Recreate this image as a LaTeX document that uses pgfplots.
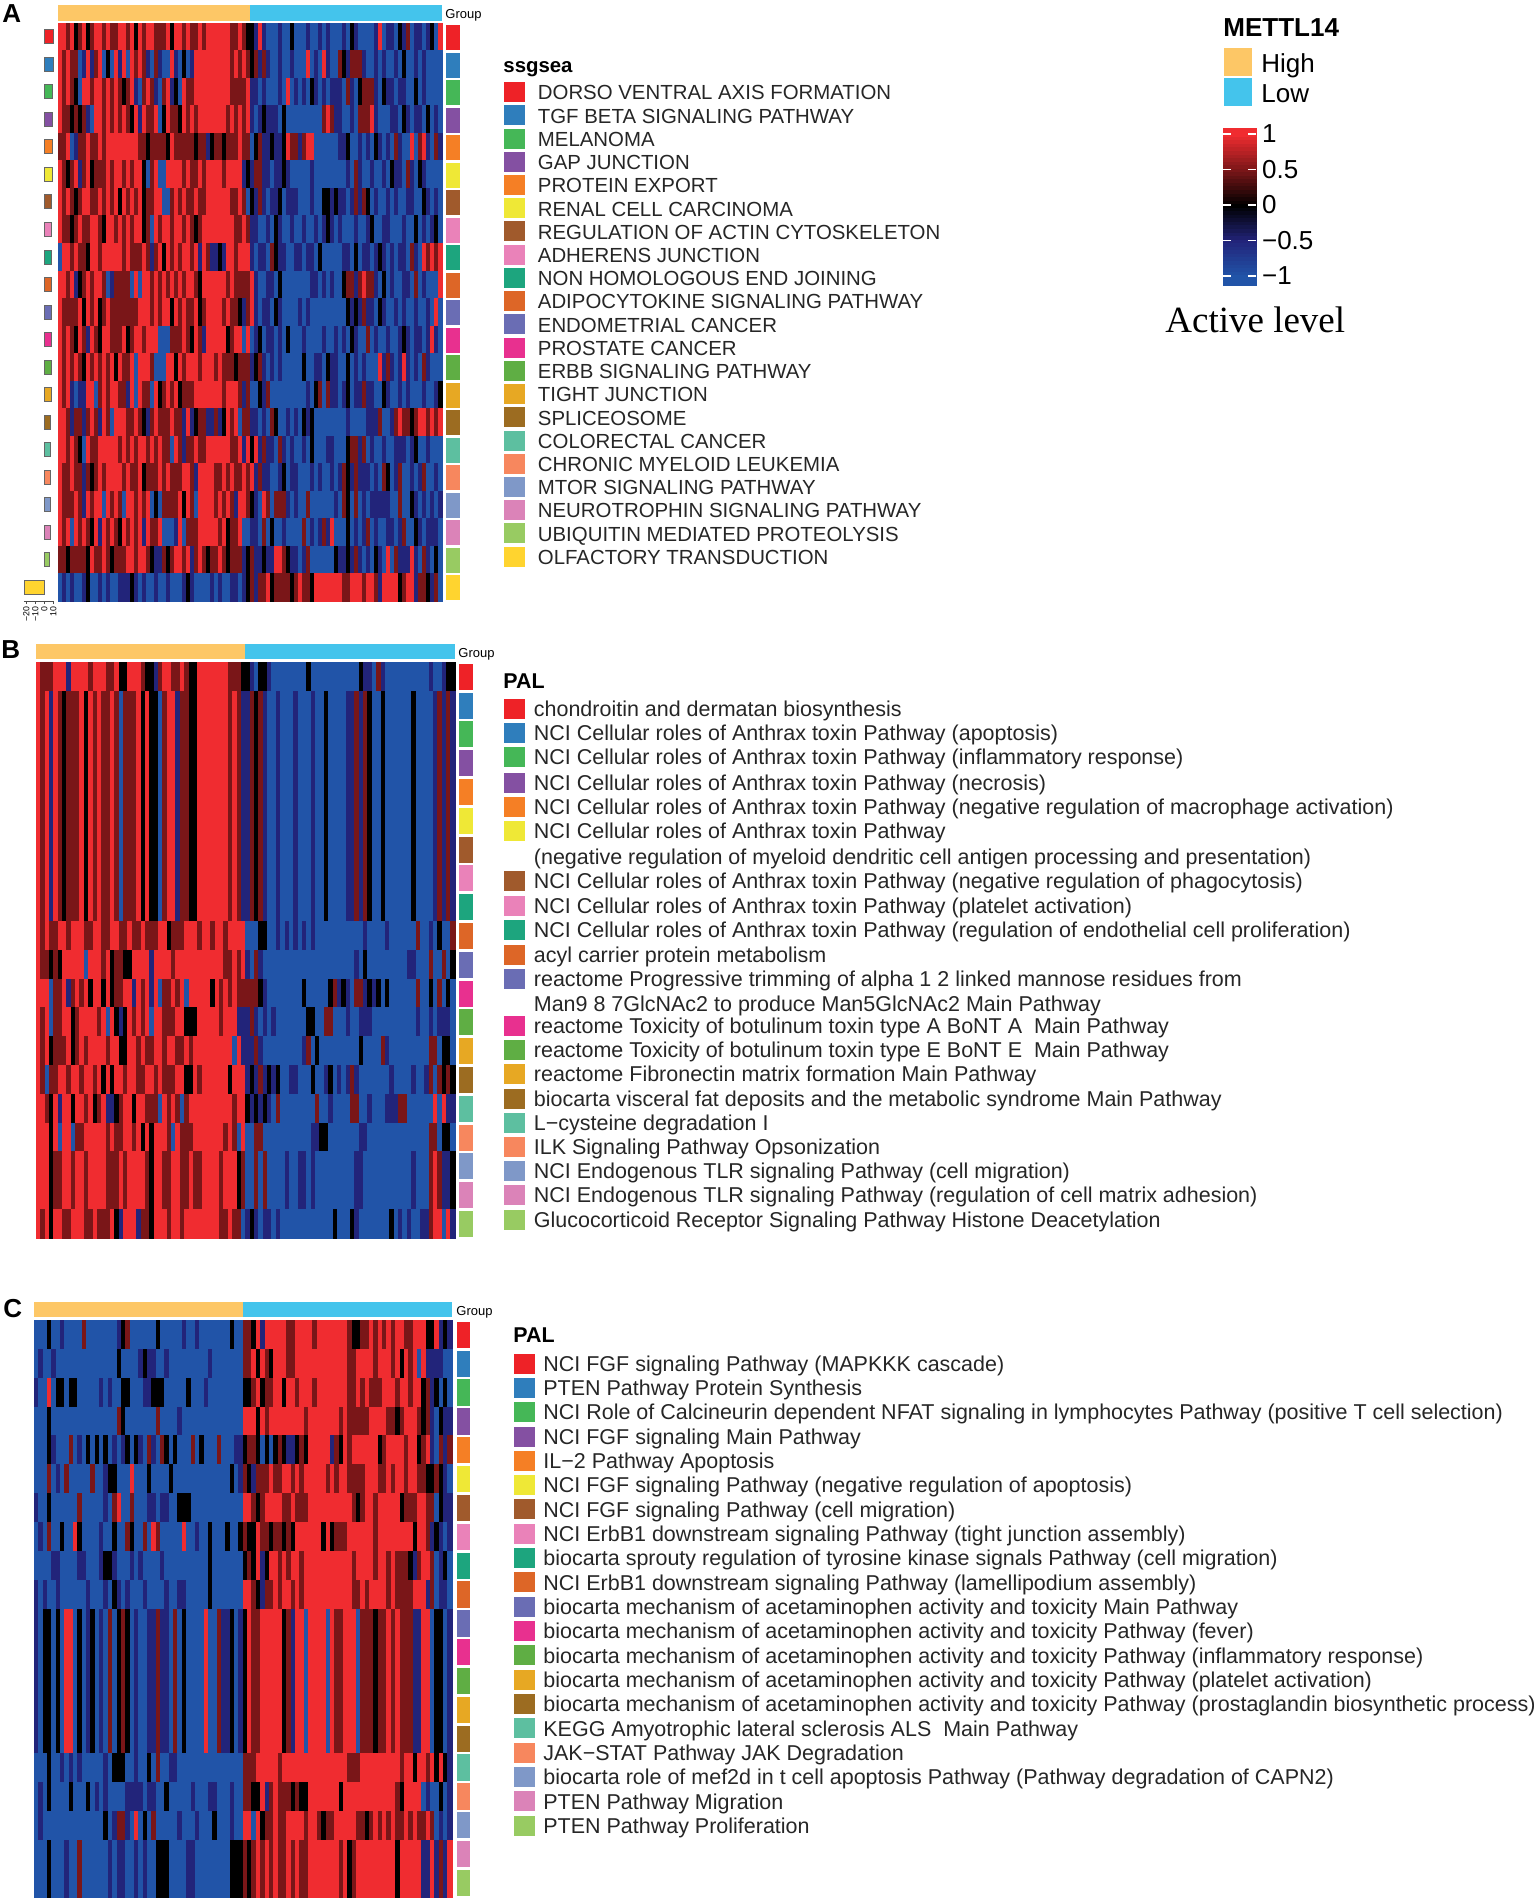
\documentclass[border=0pt]{standalone}
\usepackage{fontspec}
\setmainfont{Liberation Sans}
\newfontfamily\serifact{Liberation Serif}
\usepackage{pgfplots}
\pgfplotsset{compat=1.18}

% annotation colours
\definecolor{hi}{HTML}{FDC766}
\definecolor{lo}{HTML}{44C4EC}
\definecolor{pal1}{HTML}{EE2227}
\definecolor{pal2}{HTML}{2F7EBC}
\definecolor{pal3}{HTML}{45B757}
\definecolor{pal4}{HTML}{8450A2}
\definecolor{pal5}{HTML}{F57F25}
\definecolor{pal6}{HTML}{EFE836}
\definecolor{pal7}{HTML}{A05A2C}
\definecolor{pal8}{HTML}{EA82B9}
\definecolor{pal9}{HTML}{1DA57E}
\definecolor{pal10}{HTML}{DD6627}
\definecolor{pal11}{HTML}{6A6DB4}
\definecolor{pal12}{HTML}{E8308F}
\definecolor{pal13}{HTML}{5FAE44}
\definecolor{pal14}{HTML}{E7A823}
\definecolor{pal15}{HTML}{9C6C21}
\definecolor{pal16}{HTML}{5DBFA0}
\definecolor{pal17}{HTML}{F7875E}
\definecolor{pal18}{HTML}{7F98C8}
\definecolor{pal19}{HTML}{DB83B8}
\definecolor{pal20}{HTML}{98CB62}
\definecolor{pal21}{HTML}{FFD42F}

\pgfplotsset{
  colormap={hm}{rgb255=(33,84,168) rgb255=(34,36,122) rgb255=(0,0,0) rgb255=(122,22,24) rgb255=(240,44,48)},
  hmcell/.style={only marks,scatter,point meta=explicit,mark=square*,mark size=1pt,
    scatter/use mapped color={draw=mapped color,fill=mapped color}},
  hmaxis/.style={scale only axis,hide axis,y dir=reverse,anchor=north west,
    colormap name=hm,point meta min=0,point meta max=4,xmin=-0.5,xmax=95.5,ymin=-0.5},
}

% heatmap level per cell: 0 = -1, 1 = -0.5, 2 = 0, 3 = 0.5, 4 = 1
\newcount\hmi
\newcommand\hmrow[2]{%
  \gdef\pts{}\global\hmi=0
  \foreach \v in #2 {\xdef\pts{\pts (\the\hmi,#1) [\v]}\global\advance\hmi by 1 }%
  \edef\temp{\noexpand\addplot[hmcell] coordinates {\pts};}\temp
}
% filled box in reference pixels
\newcommand\pxbox[5]{\addplot[fill=#1,draw=none] coordinates {(#2,#3)(#4,#3)(#4,#5)(#2,#5)};}
\newcommand\sidecell[6]{%
  \pgfmathsetmacro\ya{#4+(#1-1)*#5}\pgfmathsetmacro\yb{\ya+#6}%
  \edef\temp{\noexpand\pxbox{pal#1}{#2}{\ya}{#3}{\yb}}\temp}
\newcommand\legcore[6]{% size, colour, x swatch, x text, y, label
  \pgfmathsetmacro\ya{#5-10}\pgfmathsetmacro\yb{#5+10}\pgfmathsetmacro\xb{#3+21}%
  \edef\temp{\noexpand\pxbox{pal#2}{#3}{\ya}{\xb}{\yb}}\temp
  \node[anchor=mid west,inner sep=0pt,yshift=-1.25pt,font=\fontsize{#1}{12pt}\selectfont,text=black!85] at (axis cs:#4,#5) {#6};}
\newcommand\legitem{\legcore{10.2pt}}
\newcommand\legitemb{\legcore{10.74pt}}
\newcommand\lab[4]{\node[anchor=mid west,inner sep=0pt,font=#4] at (axis cs:#1,#2) {#3};}

% panel A
\def\Aa{4,4,3,4,2,3,4,2,3,4,4,3, 4,3,3,4,4,3,4,2,4,3,4,4, 3,3,3,4,2,4,4,3,4,3,3,4, 3,4,4,4,4,4,4,3,3,4,3,2, 2,1,4,1,0,0,0,1,0,0,2,0, 0,0,1,0,0,1,0,1,0,0,0,1, 0,2,1,0,0,0,0,1,4,0,1,1, 0,2,1,3,0,1,1,0,1,2,0,4}
\def\Ab{4,3,4,3,3,0,1,4,1,3,4,0, 2,0,4,1,4,0,4,3,4,3,1,0, 3,1,0,0,4,1,0,2,0,1,4,4, 4,4,4,4,4,4,4,3,4,3,4,3, 2,3,1,3,1,0,0,1,0,0,1,0, 0,0,4,0,1,0,4,1,0,0,3,2, 1,3,3,3,1,0,0,1,0,1,0,0, 1,0,2,0,0,1,0,1,0,0,0,0}
\def\Ac{4,3,4,3,2,0,4,4,3,4,4,3, 4,3,4,3,2,3,4,1,0,3,4,3, 1,0,3,4,1,2,0,4,3,3,4,4, 4,4,4,4,4,4,4,3,3,3,3,4, 1,1,0,1,0,0,0,1,0,4,0,1, 0,1,0,2,1,0,1,0,1,1,1,0, 3,1,0,2,3,3,3,1,0,2,1,1, 0,1,1,0,0,2,0,1,0,0,0,0}
\def\Ad{4,3,3,2,3,2,3,1,0,4,4,3, 4,3,4,3,4,3,2,4,1,4,3,3, 4,0,2,4,3,3,2,4,3,4,3,4, 4,4,4,4,4,4,3,4,3,4,3,4, 1,0,1,2,1,1,1,0,2,0,0,0, 0,0,0,0,0,0,3,4,3,1,1,0, 0,1,0,3,3,3,4,1,0,0,0,1, 1,0,2,1,0,1,1,0,2,0,1,0}
\def\Ae{3,3,4,0,1,3,3,4,3,3,4,3, 4,4,4,4,4,4,4,4,3,3,2,3, 3,3,3,2,4,3,3,3,3,3,2,3, 3,1,2,3,3,2,3,3,3,4,3,3, 0,2,3,1,1,2,1,1,2,4,3,3, 1,3,4,4,0,0,0,0,0,0,1,1, 2,0,0,1,0,1,0,2,1,0,1,0, 3,1,0,0,4,0,3,4,1,0,3,1}
\def\Af{4,3,2,3,4,1,3,4,2,3,3,3, 4,3,4,4,3,4,3,4,4,2,0,3, 4,0,0,4,4,4,4,3,4,3,3,4, 3,4,4,4,4,3,4,4,4,4,1,2, 1,3,3,1,1,0,1,1,2,1,0,0, 0,0,0,1,0,0,0,0,0,0,0,0, 1,0,3,1,0,0,1,0,0,1,0,2, 1,1,0,3,1,0,2,1,0,0,0,0}
\def\Ag{4,3,4,3,2,3,4,4,3,3,4,3, 4,3,4,2,4,3,4,3,4,2,3,3, 4,4,0,0,3,4,3,4,3,3,4,3, 3,4,4,4,4,4,4,3,3,4,3,0, 2,1,3,1,0,1,1,2,0,1,1,1, 0,0,0,1,0,0,2,2,1,2,1,1, 0,1,3,1,3,2,0,1,0,0,1,0, 1,0,0,1,1,0,0,2,1,0,1,0}
\def\Ah{4,3,3,2,3,4,3,3,4,4,3,2, 4,4,3,4,3,4,3,4,4,2,3,0, 4,3,4,4,3,4,4,3,4,3,2,3, 4,4,4,4,4,4,4,4,3,3,4,3, 1,1,0,0,1,0,2,1,0,0,1,0, 0,1,0,0,1,0,1,2,1,0,1,0, 0,0,1,0,0,1,2,0,0,1,1,0, 0,0,1,0,0,2,0,1,0,1,2,0}
\def\Ai{0,4,4,3,4,3,3,2,4,4,3,4, 4,4,4,4,3,4,3,3,3,4,3,1, 3,4,2,4,3,4,3,4,4,3,4,1, 4,3,1,1,2,1,4,4,3,4,4,4, 1,0,1,1,0,3,2,1,1,0,0,1, 1,0,1,1,0,2,0,0,0,0,0,1, 1,0,2,0,1,1,0,1,2,1,0,1, 0,1,1,0,3,1,0,4,3,4,3,4}
\def\Aj{4,4,3,4,1,2,3,4,3,4,4,3, 0,1,3,3,3,3,0,4,0,4,4,3, 4,3,4,3,4,3,4,3,4,4,3,2, 4,4,4,4,4,4,3,4,3,3,3,3, 4,1,0,0,1,1,0,2,0,0,0,0, 0,0,0,1,1,0,1,0,1,0,0,2, 3,3,1,3,4,3,3,1,0,2,0,1, 0,0,1,1,0,3,0,1,0,0,0,4}
\def\Ak{4,3,3,3,3,4,2,4,3,4,2,3, 4,3,3,3,3,3,3,3,4,4,4,3, 4,3,4,4,2,4,3,4,3,3,4,2, 3,4,4,4,4,3,4,3,3,2,1,3, 4,1,0,1,1,0,2,1,0,0,0,0, 1,0,1,0,0,0,0,0,0,0,0,0, 2,1,2,1,3,1,1,0,2,1,0,0, 1,0,1,0,0,1,0,0,1,0,4,0}
\def\Al{4,3,4,3,2,4,3,1,4,3,2,4, 4,3,3,3,4,2,3,4,4,3,4,4, 4,0,0,0,3,3,3,4,3,2,4,3, 1,4,4,4,4,4,2,3,4,4,0,4, 0,1,2,0,1,1,0,1,0,2,0,0, 0,1,0,0,0,0,1,0,0,1,0,1, 0,2,1,0,0,3,0,1,0,0,1,0, 0,1,2,1,0,1,1,0,1,4,1,0}
\def\Am{4,3,4,3,4,3,2,4,3,4,3,4, 3,4,2,4,3,3,4,0,4,4,4,3, 0,0,0,4,4,2,4,3,4,4,4,3, 4,4,4,3,4,3,3,3,2,3,3,3, 1,2,3,1,0,1,0,1,0,0,0,0, 0,2,0,0,1,1,0,2,1,1,0,0, 2,0,1,0,1,0,0,0,4,1,3,1, 0,1,4,1,0,1,0,3,1,0,0,0}
\def\An{4,3,4,1,0,1,1,4,4,0,3,4, 3,4,4,3,3,1,4,0,4,3,3,0, 4,2,3,4,3,4,2,3,3,3,4,4, 4,4,4,4,4,3,4,4,4,3,1,3, 0,0,2,1,3,0,0,0,0,0,0,0, 0,0,1,0,2,3,0,3,1,1,0,1, 2,0,1,1,3,1,1,0,0,2,1,0, 0,1,0,1,0,0,0,1,0,0,1,2}
\def\Ao{4,4,3,1,3,3,1,3,4,3,1,4, 3,0,4,4,4,3,3,4,3,2,1,3, 4,3,3,3,4,3,3,1,4,1,2,3, 3,1,1,3,1,2,4,3,4,0,3,3, 1,1,0,1,0,3,2,0,0,1,0,1, 0,2,1,2,0,0,0,0,0,0,0,0, 1,0,0,0,0,1,1,1,3,0,0,1, 3,4,3,3,2,3,4,4,3,4,3,4}
\def\Ap{4,4,3,4,3,2,0,4,3,3,4,4, 4,4,4,3,4,3,4,3,4,4,3,4, 3,4,3,3,0,4,3,1,3,3,4,3, 3,4,4,4,4,4,4,3,3,4,1,4, 2,4,1,3,1,1,0,3,1,0,1,0, 0,1,0,2,0,0,0,1,1,0,0,0, 2,3,3,1,3,0,1,0,0,1,0,0, 1,1,1,0,1,2,0,0,1,0,0,0}
\def\Aq{4,3,3,4,3,3,1,3,2,3,4,3, 4,4,4,4,3,4,3,3,4,2,3,3, 3,4,3,4,3,3,3,4,4,3,1,4, 4,4,4,3,3,4,3,4,3,3,4,3, 4,1,3,1,1,0,0,1,2,0,1,1, 0,0,0,1,0,1,0,0,1,0,1,3, 2,1,3,1,1,1,0,1,0,3,2,0, 1,3,0,0,1,0,1,3,0,0,1,0}
\def\Ar{4,3,3,3,4,3,1,4,3,4,4,0, 4,3,4,3,0,4,4,3,4,3,4,0, 2,0,3,3,3,3,4,2,4,3,0,4, 4,4,4,3,4,3,4,3,1,4,4,3, 2,1,0,4,3,0,3,3,3,1,0,1, 0,0,3,0,0,0,0,0,0,1,0,3, 2,0,3,0,1,0,1,1,1,1,1,0, 0,3,0,0,2,1,0,1,0,1,0,1}
\def\As{4,3,4,0,4,3,4,3,2,4,1,4, 3,4,3,2,4,3,4,3,4,1,4,3, 3,4,0,0,0,1,4,0,3,3,3,4, 4,4,4,4,3,4,2,3,3,4,0,0, 1,1,0,3,0,2,0,0,1,0,0,0, 0,3,0,1,0,1,3,1,4,0,0,0, 2,0,1,0,1,3,0,1,0,0,1,1, 0,1,3,0,0,2,1,0,1,1,1,0}
\def\At{3,3,2,3,3,3,3,2,4,3,3,4, 3,2,3,3,3,4,4,3,4,4,3,2, 1,1,3,2,3,4,4,3,4,1,3,4, 3,2,3,3,4,3,2,3,3,3,1,2, 3,1,1,2,1,1,4,4,3,2,1,1, 0,1,3,0,0,0,0,0,0,2,1,1, 2,1,3,1,0,1,0,2,1,0,4,0, 3,1,1,1,4,1,0,3,1,0,2,0}
\def\Au{0,1,0,1,0,0,1,2,0,0,1,0, 1,0,0,1,1,1,2,1,0,1,0,0, 1,0,0,1,0,0,0,1,2,1,0,0, 0,0,1,0,1,0,0,1,1,0,1,2, 3,1,3,3,4,2,3,3,3,3,2,3, 4,3,3,2,4,4,4,4,4,4,4,3, 3,4,4,4,3,4,4,3,1,4,4,4, 4,2,3,4,4,1,3,3,2,1,3,0}

% panel B
\def\Ba{4,3,3,3,4,4,4,1,4,4,4,4, 3,4,4,4,3,3,4,2,2,4,4,4, 3,2,2,1,3,4,4,3,3,4,3,2, 2,4,4,4,4,4,4,4,3,3,3,2, 2,1,0,2,2,1,0,0,0,0,0,0, 0,0,2,0,0,0,0,0,0,0,0,0, 0,0,2,1,1,0,3,1,0,0,0,0, 0,0,0,0,0,0,1,0,0,1,2,2}
\def\Bb{4,3,4,1,4,3,2,3,3,3,4,2, 4,3,4,3,3,4,3,0,3,3,3,4, 2,4,2,2,0,3,4,4,1,3,3,2, 2,4,4,4,4,4,4,4,3,4,3,1, 1,3,2,3,1,0,0,1,0,0,0,1, 0,0,0,1,0,0,2,0,0,0,0,1, 1,3,1,3,2,0,0,2,0,0,0,0, 0,0,2,0,0,0,0,1,3,1,3,1}
\def\Bc{4,3,4,3,3,4,4,3,4,4,4,3, 3,4,4,3,3,4,4,3,3,4,3,3, 4,3,3,3,4,4,2,3,3,3,4,4, 4,3,4,4,3,4,4,3,4,4,4,4, 0,0,0,2,2,0,0,1,0,1,0,1, 0,1,0,1,0,0,0,0,0,0,0,0, 0,0,0,1,0,0,0,0,1,0,0,0, 0,0,0,3,0,0,1,0,2,0,0,3}
\def\Bd{4,3,3,2,3,2,4,4,4,4,4,0, 4,4,4,3,4,2,3,3,2,2,4,4, 4,4,1,4,4,4,4,3,4,4,4,4, 4,4,4,4,4,4,4,3,3,4,3,4, 1,0,3,1,0,0,0,0,0,0,0,0, 0,0,0,0,0,0,0,0,0,0,0,0, 0,1,0,2,0,0,0,0,0,0,0,0, 0,1,1,0,0,0,3,0,0,3,0,2}
\def\Be{4,4,4,0,3,3,4,1,3,4,3,4, 2,4,4,2,4,2,3,3,4,4,1,4, 3,4,1,4,0,3,3,4,3,4,0,4, 4,4,4,4,2,4,3,4,3,4,3,3, 3,3,3,2,1,0,0,0,0,0,0,0, 0,2,0,0,0,0,0,2,3,1,2,1, 0,3,3,1,2,1,2,0,2,0,0,0, 0,0,0,3,0,0,2,0,3,0,2,0}
\def\Bf{4,3,4,0,3,3,4,4,2,3,4,4, 4,4,3,4,0,4,2,1,2,4,3,4, 3,4,0,4,4,3,3,3,4,4,2,2, 2,4,4,4,4,4,3,4,4,4,1,1, 1,3,1,0,1,0,1,0,0,0,0,0, 0,0,2,2,0,0,3,3,0,0,0,1, 0,0,1,1,1,0,0,0,0,0,0,0, 0,0,0,1,0,0,1,0,1,1,1,0}
\def\Bg{4,3,4,2,3,3,3,4,2,3,4,3, 4,4,4,4,3,4,4,2,2,4,4,3, 4,3,3,4,4,3,4,4,3,3,4,3, 4,4,4,4,4,4,4,4,4,0,4,1, 1,1,3,1,0,0,0,0,0,0,0,0, 0,1,3,0,2,0,0,0,0,0,0,0, 0,0,2,0,0,0,0,3,1,0,0,0, 0,0,0,0,0,0,3,3,0,2,2,0}
\def\Bh{4,3,0,3,3,4,4,3,4,4,3,4, 4,3,4,2,4,2,4,4,3,4,4,3, 3,4,4,3,4,3,3,3,4,4,2,2, 4,3,4,4,4,4,4,4,2,4,4,4, 1,2,1,3,1,2,1,2,0,0,1,1, 0,0,0,2,0,0,1,2,0,1,0,1, 3,1,0,0,0,0,0,0,0,1,0,0, 0,0,1,0,0,1,3,0,3,2,3,2}
\def\Bi{4,4,3,2,4,1,4,4,2,4,4,3, 4,2,3,4,1,1,2,3,4,4,2,4, 4,3,3,3,0,4,3,4,3,0,3,4, 4,4,4,4,4,4,4,4,4,3,4,4, 2,1,2,1,2,1,0,3,0,0,0,0, 0,0,0,0,3,0,0,1,0,0,0,0, 3,3,0,0,1,0,0,0,1,1,1,3, 3,0,0,0,0,0,0,4,0,4,1,1}
\def\Bj{4,4,4,2,4,0,4,4,0,3,3,4, 4,4,4,4,3,4,3,3,4,4,3,4, 2,4,2,4,4,4,3,0,4,3,3,3, 4,4,4,4,4,4,4,3,4,3,0,4, 0,0,3,3,0,0,0,0,0,0,0,0, 0,0,0,1,1,2,2,0,0,0,0,0, 0,0,1,1,0,0,0,0,0,0,0,0, 0,0,0,0,0,0,3,3,0,2,2,0}
\def\Bk{4,4,4,2,3,3,4,4,3,4,4,3, 4,4,4,4,3,3,3,4,3,4,4,4, 4,3,2,4,4,3,3,4,4,3,3,4, 3,3,4,4,4,4,3,4,4,4,2,3, 0,0,3,0,3,0,0,0,0,1,0,0, 1,1,0,1,0,0,0,0,0,0,0,0, 0,1,1,0,0,0,0,0,0,0,0,0, 0,0,1,0,0,0,3,4,3,1,1,2}
\def\Bl{4,3,4,2,4,4,3,3,4,4,4,3, 3,4,3,3,3,4,2,1,4,4,4,1, 3,3,2,4,4,4,3,4,4,3,4,4, 4,4,4,4,4,4,3,3,4,3,3,0, 1,2,1,0,1,1,0,1,0,0,0,0, 0,0,0,0,0,0,0,0,2,0,0,0, 2,1,0,0,0,0,0,0,0,2,0,1, 0,1,0,0,1,1,3,4,4,0,4,1}

% panel C
\def\Ca{0,0,0,2,0,0,1,0,0,0,0,3, 0,0,0,0,0,0,0,1,2,3,0,0, 0,0,0,0,2,0,0,0,0,0,1,0, 0,1,0,0,0,0,0,0,0,2,0,0, 3,3,2,4,1,4,4,4,4,4,3,3, 4,4,4,4,3,4,4,4,4,4,4,4, 3,2,2,3,3,4,3,4,3,4,3,4, 4,3,3,4,4,4,2,2,4,1,2,1}
\def\Cb{0,1,0,0,1,0,0,0,0,0,0,0, 0,0,0,0,0,0,0,2,0,0,0,0, 1,2,1,1,0,0,1,0,0,0,0,0, 0,0,0,0,1,0,0,0,0,0,0,0, 3,3,4,2,4,3,2,4,4,4,3,3, 4,4,4,4,4,4,4,4,4,4,4,4, 3,3,4,4,4,4,3,4,4,4,3,4, 2,4,3,4,0,4,1,1,1,1,0,0}
\def\Cc{1,0,0,4,0,2,2,0,2,2,0,0, 0,0,0,1,0,1,0,0,2,2,0,0, 0,1,1,2,2,2,0,0,0,0,0,2, 0,0,0,1,0,0,0,0,0,0,0,0, 2,2,3,4,2,3,3,4,4,2,4,4, 3,4,4,4,3,4,4,4,4,4,4,4, 3,3,4,3,4,3,3,3,4,4,4,3, 4,4,3,4,4,2,3,1,2,0,2,0}
\def\Cd{0,0,0,2,0,0,0,0,0,0,0,0, 0,0,0,0,0,0,0,3,2,0,0,0, 0,0,0,0,3,0,0,0,0,1,0,0, 0,0,0,0,0,0,0,0,0,0,0,0, 4,4,4,2,4,3,4,4,4,4,4,4, 4,4,3,4,4,4,4,4,4,4,3,4, 3,3,3,3,3,4,4,4,4,3,3,2, 3,4,4,4,3,2,3,1,0,2,1,1}
\def\Ce{0,0,0,2,1,0,0,0,3,0,1,0, 2,0,2,0,2,0,1,0,1,2,0,2, 1,0,3,1,0,3,2,0,2,0,0,0, 3,0,2,0,0,0,3,0,0,0,1,1, 2,3,3,2,0,2,0,2,3,2,1,1, 2,3,2,4,4,4,4,4,1,3,2,4, 3,4,4,4,4,4,4,2,3,4,4,4, 4,3,4,4,2,3,4,1,0,3,1,3}
\def\Cf{0,0,0,3,0,1,0,3,0,0,0,0, 0,3,0,0,1,2,2,0,0,0,4,0, 0,0,2,0,0,0,0,2,0,0,0,0, 0,0,0,0,0,0,0,0,0,2,0,1, 3,2,1,3,3,3,4,3,3,4,4,3, 4,3,4,4,4,4,4,3,4,3,4,4, 3,3,3,3,4,4,4,3,3,4,3,4, 4,3,4,4,3,3,2,2,3,2,1,0}
\def\Cg{1,0,0,2,0,0,0,0,0,0,3,0, 0,0,0,0,1,0,3,4,0,0,3,0, 0,0,1,1,0,1,1,0,0,2,2,2, 0,0,0,0,0,0,0,0,0,0,0,0, 4,4,3,2,3,4,4,4,4,3,3,4, 3,3,3,4,4,4,4,4,4,4,4,4, 4,3,2,3,4,4,3,4,4,4,4,4, 2,3,3,3,4,4,3,3,0,2,1,1}
\def\Ch{0,1,0,3,0,0,2,0,0,4,2,0, 0,0,0,1,0,0,2,0,0,3,2,0, 0,3,0,4,3,0,0,0,0,0,4,0, 0,1,0,0,2,0,0,0,2,0,0,2, 3,2,2,4,3,3,2,3,3,2,3,2, 4,4,4,4,4,4,2,4,2,3,3,3, 4,4,4,4,4,4,3,4,4,4,4,4, 4,4,4,2,4,4,3,1,2,1,0,1}
\def\Ci{0,0,0,0,1,1,0,0,0,0,1,1, 0,0,0,1,2,2,1,0,0,0,1,0, 1,0,0,0,0,1,0,0,0,0,0,0, 0,0,0,0,2,0,0,0,0,0,0,0, 2,3,2,4,1,2,4,4,3,4,3,4, 4,3,4,4,4,4,4,4,4,4,4,4, 4,3,4,4,4,4,3,4,4,3,4,3, 3,3,2,1,3,4,4,3,0,1,2,0}
\def\Cj{1,0,1,0,0,1,0,0,0,0,0,0, 1,0,0,0,1,0,2,1,0,1,0,0, 0,1,0,0,0,0,1,0,0,1,1,0, 0,0,0,0,2,0,0,0,0,0,0,0, 4,4,3,2,1,3,3,4,3,4,4,3, 4,3,4,4,4,4,4,4,4,4,4,4, 4,3,3,4,3,4,4,4,4,3,4,3, 3,3,3,4,4,4,1,3,0,1,1,0}
\def\Ck{1,0,2,2,0,2,0,4,4,0,2,0, 1,2,0,1,0,3,0,2,3,2,0,1, 0,0,1,1,3,1,1,0,3,0,2,0, 0,0,0,4,0,0,3,1,1,2,0,1, 2,4,3,3,4,4,4,4,4,2,3,1, 4,4,0,4,4,4,4,0,4,3,3,4, 4,4,0,3,3,3,2,3,3,4,3,4, 3,3,3,1,1,4,4,0,2,2,0,1}
\def\Cl{0,0,0,2,0,0,1,0,1,0,1,0, 0,0,0,0,1,0,2,2,2,0,0,1, 0,0,2,0,3,0,0,1,1,0,0,0, 0,0,0,0,0,0,0,0,0,0,0,0, 3,3,3,4,4,4,4,4,3,4,4,4, 4,4,4,4,4,4,4,4,4,4,4,4, 3,3,3,4,4,4,4,4,4,4,4,4, 3,4,4,2,4,4,3,4,2,4,2,1}
\def\Cm{0,1,0,2,0,0,0,0,2,0,0,0, 2,0,1,0,1,0,0,0,0,1,1,1, 1,0,1,1,0,0,2,0,0,0,0,0, 1,0,0,0,1,1,0,0,0,1,0,0, 3,3,2,2,4,1,3,4,3,3,3,2, 3,2,2,4,4,4,4,4,4,4,2,4, 4,4,4,4,4,4,4,4,4,4,4,3, 2,4,4,4,4,0,1,0,0,2,0,1}
\def\Cn{0,1,0,0,0,0,0,0,0,0,0,0, 0,0,0,0,2,0,1,3,3,1,0,4, 0,2,0,3,0,0,0,0,0,1,0,0, 0,1,0,0,0,2,0,0,0,1,0,0, 4,4,0,4,2,3,3,4,3,3,4,4, 4,4,3,4,4,3,2,3,3,4,4,4, 4,4,3,3,2,3,4,3,4,3,4,3, 3,4,3,4,3,3,4,3,0,1,0,1}
\def\Co{0,0,0,2,0,0,0,1,0,0,3,0, 0,0,0,0,0,1,0,1,1,0,0,1, 0,1,0,0,2,2,2,0,0,0,0,1, 1,0,0,0,0,0,0,0,0,2,2,2, 3,2,3,4,3,4,3,4,3,3,4,3, 4,3,3,4,4,4,4,4,4,4,3,4, 2,3,4,4,4,4,4,4,4,4,4,2, 4,4,4,4,4,1,1,4,1,3,1,4}

\begin{document}
\begin{tikzpicture}
\useasboundingbox (0pt,0pt) rectangle (767pt,-949pt);

% everything that is laid out in reference pixels
\begin{axis}[scale only axis,hide axis,clip=false,at={(0pt,0pt)},anchor=north west,
  width=767pt,height=949pt,xmin=0,xmax=1534,ymin=0,ymax=1898,y dir=reverse]
  % group bars
  \pxbox{hi}{58}{5}{249.5}{21}\pxbox{lo}{249.5}{5}{442}{21}
  \pxbox{hi}{36}{644}{245}{659}\pxbox{lo}{245}{644}{455}{659}
  \pxbox{hi}{34}{1302}{243}{1317}\pxbox{lo}{243}{1302}{452}{1317}
  % side annotation
  \pgfplotsinvokeforeach{1,...,21}{\sidecell{#1}{446}{459.5}{25}{27.5}{25}}
  \pgfplotsinvokeforeach{1,...,20}{\sidecell{#1}{459}{472.5}{663.7}{28.8}{26}}
  \pgfplotsinvokeforeach{1,...,20}{\sidecell{#1}{456.5}{470}{1321.7}{28.85}{26.3}}
  % panel letters and group labels
  \lab{2}{17}{A}{\fontsize{13pt}{14pt}\selectfont\bfseries}
  \lab{1}{653}{B}{\fontsize{13pt}{14pt}\selectfont\bfseries}
  \lab{3}{1312}{C}{\fontsize{13pt}{14pt}\selectfont\bfseries}
  \lab{445}{13}{Group}{\fontsize{6.5pt}{7pt}\selectfont}
  \lab{458}{652}{Group}{\fontsize{6.5pt}{7pt}\selectfont}
  \lab{456}{1310}{Group}{\fontsize{6.5pt}{7pt}\selectfont}
  % legend A
  \lab{503}{67.5}{ssgsea}{\fontsize{10.2pt}{12pt}\selectfont\bfseries}
  \legitem{1}{504}{537.5}{92}{DORSO VENTRAL AXIS FORMATION}
  \legitem{2}{504}{537.5}{115.2}{TGF BETA SIGNALING PATHWAY}
  \legitem{3}{504}{537.5}{138.5}{MELANOMA}
  \legitem{4}{504}{537.5}{161.7}{GAP JUNCTION}
  \legitem{5}{504}{537.5}{184.9}{PROTEIN EXPORT}
  \legitem{6}{504}{537.5}{208.2}{RENAL CELL CARCINOMA}
  \legitem{7}{504}{537.5}{231.4}{REGULATION OF ACTIN CYTOSKELETON}
  \legitem{8}{504}{537.5}{254.6}{ADHERENS JUNCTION}
  \legitem{9}{504}{537.5}{277.8}{NON HOMOLOGOUS END JOINING}
  \legitem{10}{504}{537.5}{301.1}{ADIPOCYTOKINE SIGNALING PATHWAY}
  \legitem{11}{504}{537.5}{324.3}{ENDOMETRIAL CANCER}
  \legitem{12}{504}{537.5}{347.5}{PROSTATE CANCER}
  \legitem{13}{504}{537.5}{370.8}{ERBB SIGNALING PATHWAY}
  \legitem{14}{504}{537.5}{394}{TIGHT JUNCTION}
  \legitem{15}{504}{537.5}{417.2}{SPLICEOSOME}
  \legitem{16}{504}{537.5}{440.5}{COLORECTAL CANCER}
  \legitem{17}{504}{537.5}{463.7}{CHRONIC MYELOID LEUKEMIA}
  \legitem{18}{504}{537.5}{486.9}{MTOR SIGNALING PATHWAY}
  \legitem{19}{504}{537.5}{510.1}{NEUROTROPHIN SIGNALING PATHWAY}
  \legitem{20}{504}{537.5}{533.4}{UBIQUITIN MEDIATED PROTEOLYSIS}
  \legitem{21}{504}{537.5}{556.6}{OLFACTORY TRANSDUCTION}
  % legend B
  \lab{503}{683.5}{PAL}{\fontsize{10.7pt}{12pt}\selectfont\bfseries}
  \legitemb{1}{504}{533.5}{709}{chondroitin and dermatan biosynthesis}
  \legitemb{2}{504}{533.5}{733}{NCI Cellular roles of Anthrax toxin Pathway (apoptosis)}
  \legitemb{3}{504}{533.5}{757}{NCI Cellular roles of Anthrax toxin Pathway (inflammatory response)}
  \legitemb{4}{504}{533.5}{783}{NCI Cellular roles of Anthrax toxin Pathway (necrosis)}
  \legitemb{5}{504}{533.5}{807}{NCI Cellular roles of Anthrax toxin Pathway (negative regulation of macrophage activation)}
  \legitemb{6}{504}{533.5}{831}{NCI Cellular roles of Anthrax toxin Pathway}
  \lab{533.5}{859.5}{(negative regulation of myeloid dendritic cell antigen processing and presentation)}{\fontsize{10.74pt}{12pt}\selectfont\color{black!85}}
  \legitemb{7}{504}{533.5}{881}{NCI Cellular roles of Anthrax toxin Pathway (negative regulation of phagocytosis)}
  \legitemb{8}{504}{533.5}{906}{NCI Cellular roles of Anthrax toxin Pathway (platelet activation)}
  \legitemb{9}{504}{533.5}{930}{NCI Cellular roles of Anthrax toxin Pathway (regulation of endothelial cell proliferation)}
  \legitemb{10}{504}{533.5}{955}{acyl carrier protein metabolism}
  \legitemb{11}{504}{533.5}{979}{reactome Progressive trimming of alpha 1 2 linked mannose residues from}
  \lab{533.5}{1006.5}{Man9 8 7GlcNAc2 to produce Man5GlcNAc2 Main Pathway}{\fontsize{10.74pt}{12pt}\selectfont\color{black!85}}
  \legitemb{12}{504}{533.5}{1026}{reactome Toxicity of botulinum toxin type A BoNT A~ Main Pathway}
  \legitemb{13}{504}{533.5}{1050}{reactome Toxicity of botulinum toxin type E BoNT E~ Main Pathway}
  \legitemb{14}{504}{533.5}{1074}{reactome Fibronectin matrix formation Main Pathway}
  \legitemb{15}{504}{533.5}{1099}{biocarta visceral fat deposits and the metabolic syndrome Main Pathway}
  \legitemb{16}{504}{533.5}{1123}{L−cysteine degradation I}
  \legitemb{17}{504}{533.5}{1147}{ILK Signaling Pathway Opsonization}
  \legitemb{18}{504}{533.5}{1171}{NCI Endogenous TLR signaling Pathway (cell migration)}
  \legitemb{19}{504}{533.5}{1195}{NCI Endogenous TLR signaling Pathway (regulation of cell matrix adhesion)}
  \legitemb{20}{504}{533.5}{1220}{Glucocorticoid Receptor Signaling Pathway Histone Deacetylation}
  % legend C
  \lab{513}{1337}{PAL}{\fontsize{10.7pt}{12pt}\selectfont\bfseries}
  \legitemb{1}{514}{543}{1363.5}{NCI FGF signaling Pathway (MAPKKK cascade)}
  \legitemb{2}{514}{543}{1387.8}{PTEN Pathway Protein Synthesis}
  \legitemb{3}{514}{543}{1412.1}{NCI Role of Calcineurin dependent NFAT signaling in lymphocytes Pathway (positive T cell selection)}
  \legitemb{4}{514}{543}{1436.5}{NCI FGF signaling Main Pathway}
  \legitemb{5}{514}{543}{1460.8}{IL−2 Pathway Apoptosis}
  \legitemb{6}{514}{543}{1485.1}{NCI FGF signaling Pathway (negative regulation of apoptosis)}
  \legitemb{7}{514}{543}{1509.4}{NCI FGF signaling Pathway (cell migration)}
  \legitemb{8}{514}{543}{1533.7}{NCI ErbB1 downstream signaling Pathway (tight junction assembly)}
  \legitemb{9}{514}{543}{1558.1}{biocarta sprouty regulation of tyrosine kinase signals Pathway (cell migration)}
  \legitemb{10}{514}{543}{1582.4}{NCI ErbB1 downstream signaling Pathway (lamellipodium assembly)}
  \legitemb{11}{514}{543}{1606.7}{biocarta mechanism of acetaminophen activity and toxicity Main Pathway}
  \legitemb{12}{514}{543}{1631}{biocarta mechanism of acetaminophen activity and toxicity Pathway (fever)}
  \legitemb{13}{514}{543}{1655.3}{biocarta mechanism of acetaminophen activity and toxicity Pathway (inflammatory response)}
  \legitemb{14}{514}{543}{1679.7}{biocarta mechanism of acetaminophen activity and toxicity Pathway (platelet activation)}
  \legitemb{15}{514}{543}{1704}{biocarta mechanism of acetaminophen activity and toxicity Pathway (prostaglandin biosynthetic process)}
  \legitemb{16}{514}{543}{1728.3}{KEGG Amyotrophic lateral sclerosis ALS~ Main Pathway}
  \legitemb{17}{514}{543}{1752.6}{JAK−STAT Pathway JAK Degradation}
  \legitemb{18}{514}{543}{1776.9}{biocarta role of mef2d in t cell apoptosis Pathway (Pathway degradation of CAPN2)}
  \legitemb{19}{514}{543}{1801.3}{PTEN Pathway Migration}
  \legitemb{20}{514}{543}{1825.6}{PTEN Pathway Proliferation}
  % METTL14 legend
  \lab{1223}{31}{METTL14}{\fontsize{13pt}{15pt}\selectfont\bfseries}
  \pxbox{hi}{1224}{48}{1252}{76}\pxbox{lo}{1224}{78}{1252}{106}
  \lab{1261}{67}{High}{\fontsize{13pt}{15pt}\selectfont}
  \lab{1261}{97}{Low}{\fontsize{13pt}{15pt}\selectfont}
  \lab{1165}{327}{Active level}{\fontsize{18.5pt}{20pt}\selectfont\serifact}
\end{axis}

% panel A heatmap
\begin{axis}[hmaxis,at={(29pt,-11.5pt)},width=192pt,height=289pt,ymax=20.5,
  hmcell/.append style={mark options={xscale=1,yscale=6.88,line width=0.2pt}}]
  \hmrow{0}{\Aa}\hmrow{1}{\Ab}\hmrow{2}{\Ac}\hmrow{3}{\Ad}\hmrow{4}{\Ae}\hmrow{5}{\Af}\hmrow{6}{\Ag}
  \hmrow{7}{\Ah}\hmrow{8}{\Ai}\hmrow{9}{\Aj}\hmrow{10}{\Ak}\hmrow{11}{\Al}\hmrow{12}{\Am}\hmrow{13}{\An}
  \hmrow{14}{\Ao}\hmrow{15}{\Ap}\hmrow{16}{\Aq}\hmrow{17}{\Ar}\hmrow{18}{\As}\hmrow{19}{\At}\hmrow{20}{\Au}
\end{axis}

% panel B heatmap
\begin{axis}[hmaxis,at={(18pt,-331pt)},width=209.5pt,height=288pt,ymax=19.5,
  hmcell/.append style={mark options={xscale=1.09,yscale=7.2,line width=0.2pt}}]
  \hmrow{0}{\Ba}\hmrow{1}{\Bb}\hmrow{2}{\Bb}\hmrow{3}{\Bb}\hmrow{4}{\Bb}\hmrow{5}{\Bb}\hmrow{6}{\Bb}\hmrow{7}{\Bb}\hmrow{8}{\Bb}
  \hmrow{9}{\Bc}\hmrow{10}{\Bd}\hmrow{11}{\Be}\hmrow{12}{\Bf}\hmrow{13}{\Bg}\hmrow{14}{\Bh}\hmrow{15}{\Bi}\hmrow{16}{\Bj}
  \hmrow{17}{\Bk}\hmrow{18}{\Bk}\hmrow{19}{\Bl}
\end{axis}

% panel C heatmap
\begin{axis}[hmaxis,at={(17pt,-660pt)},width=209pt,height=289pt,ymax=19.5,
  hmcell/.append style={mark options={xscale=1.09,yscale=7.23,line width=0.2pt}}]
  \hmrow{0}{\Ca}\hmrow{1}{\Cb}\hmrow{2}{\Cc}\hmrow{3}{\Cd}\hmrow{4}{\Ce}\hmrow{5}{\Cf}\hmrow{6}{\Cg}\hmrow{7}{\Ch}\hmrow{8}{\Ci}\hmrow{9}{\Cj}
  \hmrow{10}{\Ck}\hmrow{11}{\Ck}\hmrow{12}{\Ck}\hmrow{13}{\Ck}\hmrow{14}{\Ck}
  \hmrow{15}{\Cl}\hmrow{16}{\Cm}\hmrow{17}{\Cn}\hmrow{18}{\Co}\hmrow{19}{\Co}
\end{axis}

% row bars left of panel A
\begin{axis}[scale only axis,at={(12pt,-11.5pt)},anchor=north west,width=14.85pt,height=289pt,
  xmin=-22.5,xmax=10.5,ymin=-0.5,ymax=20.5,axis x line=bottom,axis y line=none,clip=false,
  xbar,bar width=7pt,bar shift=0pt,xtick={-20,-10,0,10},xticklabels={−20,−10,0,10},
  x axis line style={-,line width=0.3pt,draw=black!70},
  xtick style={line width=0.3pt,draw=black!70},major tick length=1.6pt,tick align=outside,
  xticklabel style={font=\fontsize{4.4pt}{5pt}\selectfont,rotate=90,anchor=east,inner sep=1pt}]
  \addplot[fill=pal1,draw=black!60] coordinates {(10,20)};
  \addplot[fill=pal2,draw=black!60] coordinates {(10,19)};
  \addplot[fill=pal3,draw=black!60] coordinates {(9.5,18)};
  \addplot[fill=pal4,draw=black!60] coordinates {(9,17)};
  \addplot[fill=pal5,draw=black!60] coordinates {(9,16)};
  \addplot[fill=pal6,draw=black!60] coordinates {(8.7,15)};
  \addplot[fill=pal7,draw=black!60] coordinates {(8.5,14)};
  \addplot[fill=pal8,draw=black!60] coordinates {(8.5,13)};
  \addplot[fill=pal9,draw=black!60] coordinates {(8.2,12)};
  \addplot[fill=pal10,draw=black!60] coordinates {(8.2,11)};
  \addplot[fill=pal11,draw=black!60] coordinates {(8.2,10)};
  \addplot[fill=pal12,draw=black!60] coordinates {(7.6,9)};
  \addplot[fill=pal13,draw=black!60] coordinates {(7.4,8)};
  \addplot[fill=pal14,draw=black!60] coordinates {(7.4,7)};
  \addplot[fill=pal15,draw=black!60] coordinates {(7.3,6)};
  \addplot[fill=pal16,draw=black!60] coordinates {(7,5)};
  \addplot[fill=pal17,draw=black!60] coordinates {(6.6,4)};
  \addplot[fill=pal18,draw=black!60] coordinates {(6.6,3)};
  \addplot[fill=pal19,draw=black!60] coordinates {(6.3,2)};
  \addplot[fill=pal20,draw=black!60] coordinates {(6.2,1)};
  \addplot[fill=pal21,draw=black!60] coordinates {(-22,0)};
\end{axis}

% colour key
\begin{axis}[scale only axis,at={(611.5pt,-64.5pt)},anchor=north west,width=16.5pt,height=77pt,
  xmin=0,xmax=1,ymin=-1.1,ymax=1.07,colormap name=hm,point meta min=0,point meta max=4,
  xtick=\empty,ytick={-1,-0.5,0,0.5,1},yticklabels={−1,−0.5,0,0.5,1},yticklabel pos=right,
  axis line style={draw=none},major tick length=0pt,
  yticklabel style={font=\fontsize{13pt}{15pt}\selectfont,xshift=-0.5pt,anchor=west},
  hmcell/.append style={mark options={xscale=8.25,yscale=1,line width=0.2pt}}]
  \addplot[hmcell] coordinates {(0.5,-1.1)[0] (0.5,-1.05)[0] (0.5,-1)[0] (0.5,-0.95)[0.1] (0.5,-0.9)[0.2] (0.5,-0.85)[0.3] (0.5,-0.8)[0.4] (0.5,-0.75)[0.5] (0.5,-0.7)[0.6] (0.5,-0.65)[0.7] (0.5,-0.6)[0.8] (0.5,-0.55)[0.9] (0.5,-0.5)[1] (0.5,-0.45)[1.1] (0.5,-0.4)[1.2] (0.5,-0.35)[1.3] (0.5,-0.3)[1.4] (0.5,-0.25)[1.5] (0.5,-0.2)[1.6] (0.5,-0.15)[1.7] (0.5,-0.1)[1.8] (0.5,-0.05)[1.9] (0.5,0)[2] (0.5,0.05)[2.1] (0.5,0.1)[2.2] (0.5,0.15)[2.3] (0.5,0.2)[2.4] (0.5,0.25)[2.5] (0.5,0.3)[2.6] (0.5,0.35)[2.7] (0.5,0.4)[2.8] (0.5,0.45)[2.9] (0.5,0.5)[3] (0.5,0.55)[3.1] (0.5,0.6)[3.2] (0.5,0.65)[3.3] (0.5,0.7)[3.4] (0.5,0.75)[3.5] (0.5,0.8)[3.6] (0.5,0.85)[3.7] (0.5,0.9)[3.8] (0.5,0.95)[3.9] (0.5,1)[4] (0.5,1.05)[4]};
\end{axis}

% white tick dashes on both edges of the key, over its marks
\begin{axis}[scale only axis,hide axis,at={(611.5pt,-64.5pt)},anchor=north west,width=16.5pt,height=77pt,
  xmin=0,xmax=1,ymin=-1.1,ymax=1.07]
  \addplot[white,line width=0.8pt] coordinates {(0,-1)(0.24,-1)};
  \addplot[white,line width=0.8pt] coordinates {(0.76,-1)(1,-1)};
  \addplot[white,line width=0.8pt] coordinates {(0,-0.5)(0.24,-0.5)};
  \addplot[white,line width=0.8pt] coordinates {(0.76,-0.5)(1,-0.5)};
  \addplot[white,line width=0.8pt] coordinates {(0,0)(0.24,0)};
  \addplot[white,line width=0.8pt] coordinates {(0.76,0)(1,0)};
  \addplot[white,line width=0.8pt] coordinates {(0,0.5)(0.24,0.5)};
  \addplot[white,line width=0.8pt] coordinates {(0.76,0.5)(1,0.5)};
  \addplot[white,line width=0.8pt] coordinates {(0,1)(0.24,1)};
  \addplot[white,line width=0.8pt] coordinates {(0.76,1)(1,1)};
\end{axis}
\end{tikzpicture}
\end{document}
